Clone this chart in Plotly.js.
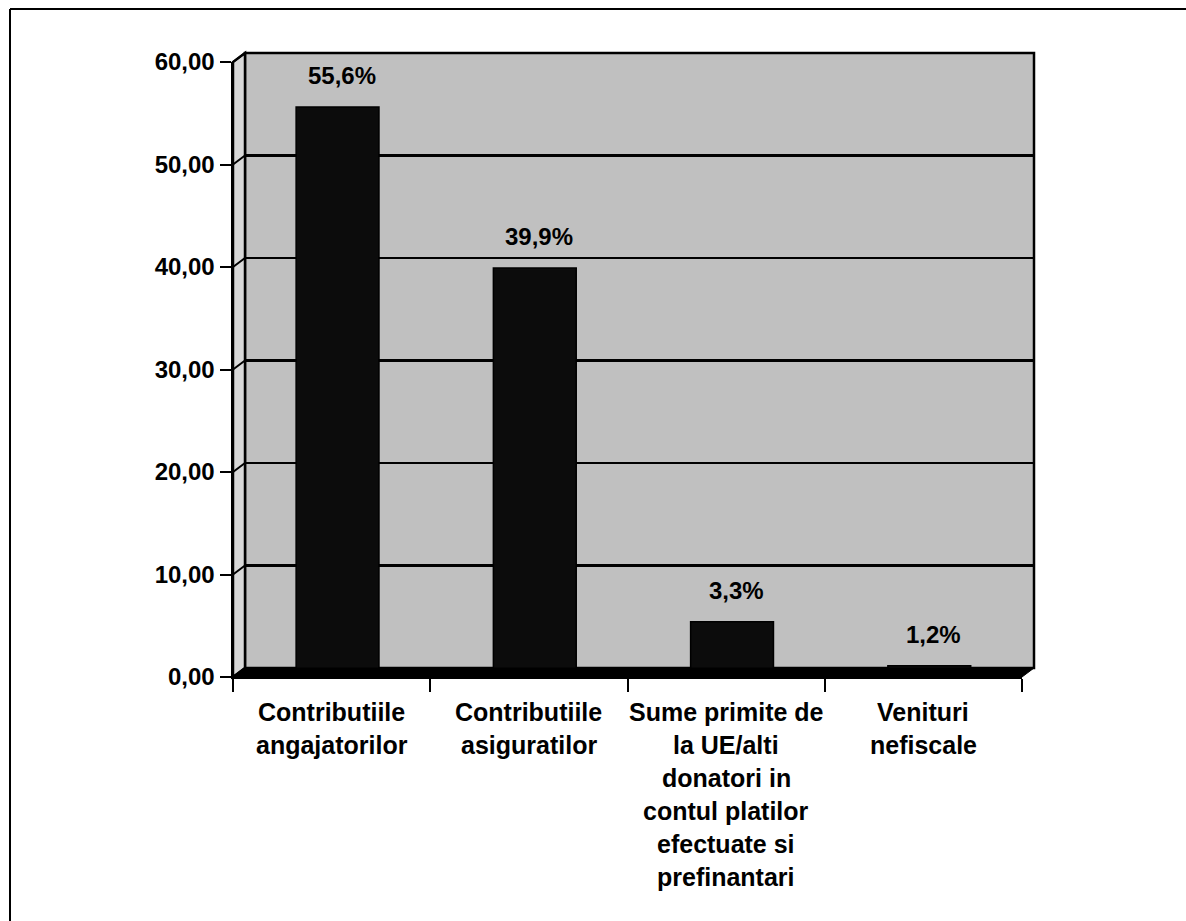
<!DOCTYPE html>
<html>
<head>
<meta charset="utf-8">
<script src="https://cdn.plot.ly/plotly-3.0.1.min.js"></script>
<style>
  html, body { margin: 0; padding: 0; background: #ffffff; }
  #chart { width: 1186px; height: 921px; }
</style>
</head>
<body>
<div id="chart"></div>
<script>
// ---- data ----
var categories = ['Contributiile angajatorilor', 'Contributiile asiguratilor',
  'Sume primite de la UE/alti donatori in contul platilor efectuate si prefinantari',
  'Venituri nefiscale'];
var categoryLines = [
  ['Contributiile', 'angajatorilor'],
  ['Contributiile', 'asiguratilor'],
  ['Sume primite de', 'la UE/alti', 'donatori in', 'contul platilor', 'efectuate si', 'prefinantari'],
  ['Venituri', 'nefiscale']
];
var barValues = [55.6, 39.9, 5.4, 1.1];
var shareLabels = [55.6, 39.9, 3.3, 1.2];
var yTickValues = [0, 10, 20, 30, 40, 50, 60];

// ---- layout geometry (pixels) ----
var W = 1186, H = 921;
var L = 233, R = 1034, T = 53, B = 677;
var PW = R - L, PH = B - T;
var depthX = 12, depthY = 9;
function px(x) { return (x - L) / PW; }
function py(y) { return (B - y) / PH; }

var FONT = 'Arial, "Liberation Sans", sans-serif';

function fmt(v) { return v.toFixed(1).replace('.', ',') + '%'; }

var traces = [
  { // back wall subplot placeholder (gridlines)
    type: 'scatter', x: [null], y: [null], xaxis: 'x', yaxis: 'y',
    hoverinfo: 'skip', showlegend: false
  },
  {
    type: 'bar', x: categories, y: barValues, xaxis: 'x2', yaxis: 'y2',
    width: 0.42, offset: -0.18,
    marker: { color: '#0c0c0c', line: { color: '#000000', width: 1.5 } },
    hoverinfo: 'skip', showlegend: false
  }
];

var annotations = [];
for (var i = 0; i < categories.length; i++) {
  annotations.push({
    x: categories[i], y: barValues[i], xref: 'x2', yref: 'y2',
    text: fmt(shareLabels[i]), showarrow: false, yanchor: 'bottom',
    xshift: 10, yshift: 16,
    font: { family: FONT, size: 24, color: '#000', weight: 700 }
  });
  for (var j = 0; j < categoryLines[i].length; j++) {
    annotations.push({
      x: categories[i], y: 0, xref: 'x2', yref: 'paper',
      text: categoryLines[i][j], showarrow: false, yanchor: 'middle',
      yshift: -(35 + j * 33),
      font: { family: FONT, size: 25, color: '#000', weight: 700 }
    });
  }
}

// plot height of the front value axis, used to place the side-wall grid diagonals
var frontH = PH - depthY;

var shapes = [
  // back wall
  { type: 'rect', xref: 'x domain', yref: 'y domain', x0: 0, x1: 1, y0: 0, y1: 1,
    fillcolor: '#c0c0c0', line: { color: '#000', width: 2.5 }, layer: 'below' },
  // left side wall
  { type: 'path', xref: 'paper', yref: 'paper', layer: 'below',
    path: 'M' + px(L) + ',' + py(B) + ' L' + px(L) + ',' + py(T + depthY) +
          ' L' + px(L + depthX) + ',' + py(T) + ' L' + px(L + depthX) + ',' + py(B - depthY) + ' Z',
    fillcolor: '#d8d8d8', line: { color: '#000', width: 2.5 } },
  // floor
  { type: 'path', xref: 'paper', yref: 'paper', layer: 'above',
    path: 'M' + px(L) + ',' + py(B) + ' L' + px(L + depthX) + ',' + py(B - depthY) +
          ' L' + px(R) + ',' + py(B - depthY) + ' L' + px(R - depthX) + ',' + py(B) + ' Z',
    fillcolor: '#000', line: { color: '#000', width: 1 } },
  // outer frame (left and top edges)
  { type: 'line', xref: 'paper', yref: 'paper', x0: px(10), x1: px(10), y0: py(9), y1: py(H + 10),
    line: { color: '#000', width: 2 } },
  { type: 'line', xref: 'paper', yref: 'paper', x0: px(10), x1: px(W + 10), y0: py(9), y1: py(9),
    line: { color: '#000', width: 2 } }
];
// diagonal gridline segments across the left side wall
yTickValues.forEach(function (v) {
  var yFront = B - frontH * v / 60;
  shapes.push({ type: 'line', xref: 'paper', yref: 'paper', layer: 'below',
    x0: px(L), y0: py(yFront), x1: px(L + depthX), y1: py(yFront - depthY),
    line: { color: '#000', width: 2 } });
});

var layout = {
  width: W, height: H,
  margin: { l: L, r: W - R, t: T, b: H - B, pad: 0 },
  paper_bgcolor: '#ffffff',
  plot_bgcolor: 'rgba(0,0,0,0)',
  separators: ',.',
  showlegend: false,
  font: { family: FONT, color: '#000' },
  xaxis: { domain: [depthX / PW, 1], anchor: 'y', range: [0, 1], visible: false, fixedrange: true },
  yaxis: { domain: [depthY / PH, 1], anchor: 'x', range: [0, 60], tickvals: yTickValues,
    showgrid: true, gridcolor: '#000', gridwidth: 2.5, showticklabels: false, ticks: '',
    zeroline: false, showline: false, fixedrange: true },
  xaxis2: { domain: [0, 1 - depthX / PW], anchor: 'y2', type: 'category',
    categoryorder: 'array', categoryarray: categories,
    tickson: 'boundaries', ticks: 'outside', ticklen: 13, tickwidth: 2, tickcolor: '#000',
    showticklabels: false, showgrid: false, showline: true, linecolor: '#000', linewidth: 2,
    fixedrange: true },
  yaxis2: { domain: [0, 1 - depthY / PH], anchor: 'x2', range: [0, 60], tickvals: yTickValues,
    tickformat: '.2f', ticks: 'outside', ticklen: 11, tickwidth: 2, tickcolor: '#000',
    showline: true, linecolor: '#000', linewidth: 2.5, showgrid: false, zeroline: false,
    tickfont: { family: FONT, size: 24, color: '#000', weight: 700 }, fixedrange: true },
  shapes: shapes,
  annotations: annotations
};

Plotly.newPlot('chart', traces, layout, { staticPlot: true, displayModeBar: false });
</script>
</body>
</html>
